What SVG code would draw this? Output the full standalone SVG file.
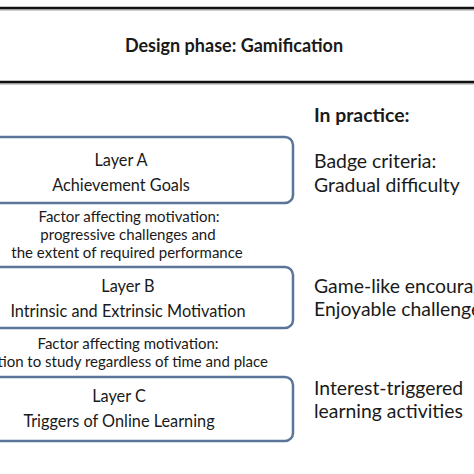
<svg xmlns="http://www.w3.org/2000/svg" width="474" height="474" viewBox="0 0 474 474">
<style>
.t{font-family:Lato,"Open Sans","Liberation Sans",sans-serif;fill:#1a1a1a}
.c{text-anchor:middle}
.l{font-size:16.3px}
.f{font-size:15px}
.r{font-size:19.4px}
.box{fill:#fff;stroke:#5b7599;stroke-width:2.5}
.rule{stroke:#111;stroke-width:2.5}
.sh{stroke:#999;stroke-width:1.2}
</style>
<rect width="474" height="474" fill="#fff"/>
<g id="header">
<line class="sh" x1="0" y1="10" x2="474" y2="10"/>
<line class="rule" x1="0" y1="8" x2="474" y2="8"/>
<line class="sh" x1="0" y1="84" x2="474" y2="84"/>
<line class="rule" x1="0" y1="82" x2="474" y2="82"/>
<text class="t c" x="234" y="52" font-size="18" font-weight="bold">Design phase: Gamification</text>
</g>
<g id="connectors"></g>
<g id="layerA">
<rect class="box" x="-20" y="137" width="313" height="66" rx="8"/>
<text class="t c l" x="121" y="166">Layer A</text>
<text class="t c l" x="121" y="191">Achievement Goals</text>
</g>
<g id="factor1">
<text class="t c f" x="129" y="222">Factor affecting motivation:</text>
<text class="t c f" x="128" y="240">progressive challenges and</text>
<text class="t c f" x="127" y="258">the extent of required performance</text>
</g>
<g id="layerB">
<rect class="box" x="-20" y="267" width="313" height="61" rx="8"/>
<text class="t c l" x="128" y="292">Layer B</text>
<text class="t c l" x="128" y="317">Intrinsic and Extrinsic Motivation</text>
</g>
<g id="factor2">
<text class="t c f" x="128" y="349">Factor affecting motivation:</text>
<text class="t f" x="268" y="367" text-anchor="end">Option to study regardless of time and place</text>
</g>
<g id="layerC">
<rect class="box" x="-20" y="377" width="313" height="64" rx="8"/>
<text class="t c l" x="119" y="402">Layer C</text>
<text class="t c l" x="119" y="427">Triggers of Online Learning</text>
</g>
<g id="practice">
<text class="t r" x="314" y="122" font-weight="bold">In practice:</text>
<text class="t r" x="314" y="168">Badge criteria:</text>
<text class="t r" x="314" y="192">Gradual difficulty</text>
<text class="t r" x="314" y="293">Game-like encouragement</text>
<text class="t r" x="314" y="316">Enjoyable challenges</text>
<text class="t r" x="314" y="395">Interest-triggered</text>
<text class="t r" x="314" y="418">learning activities</text>
</g>
</svg>
